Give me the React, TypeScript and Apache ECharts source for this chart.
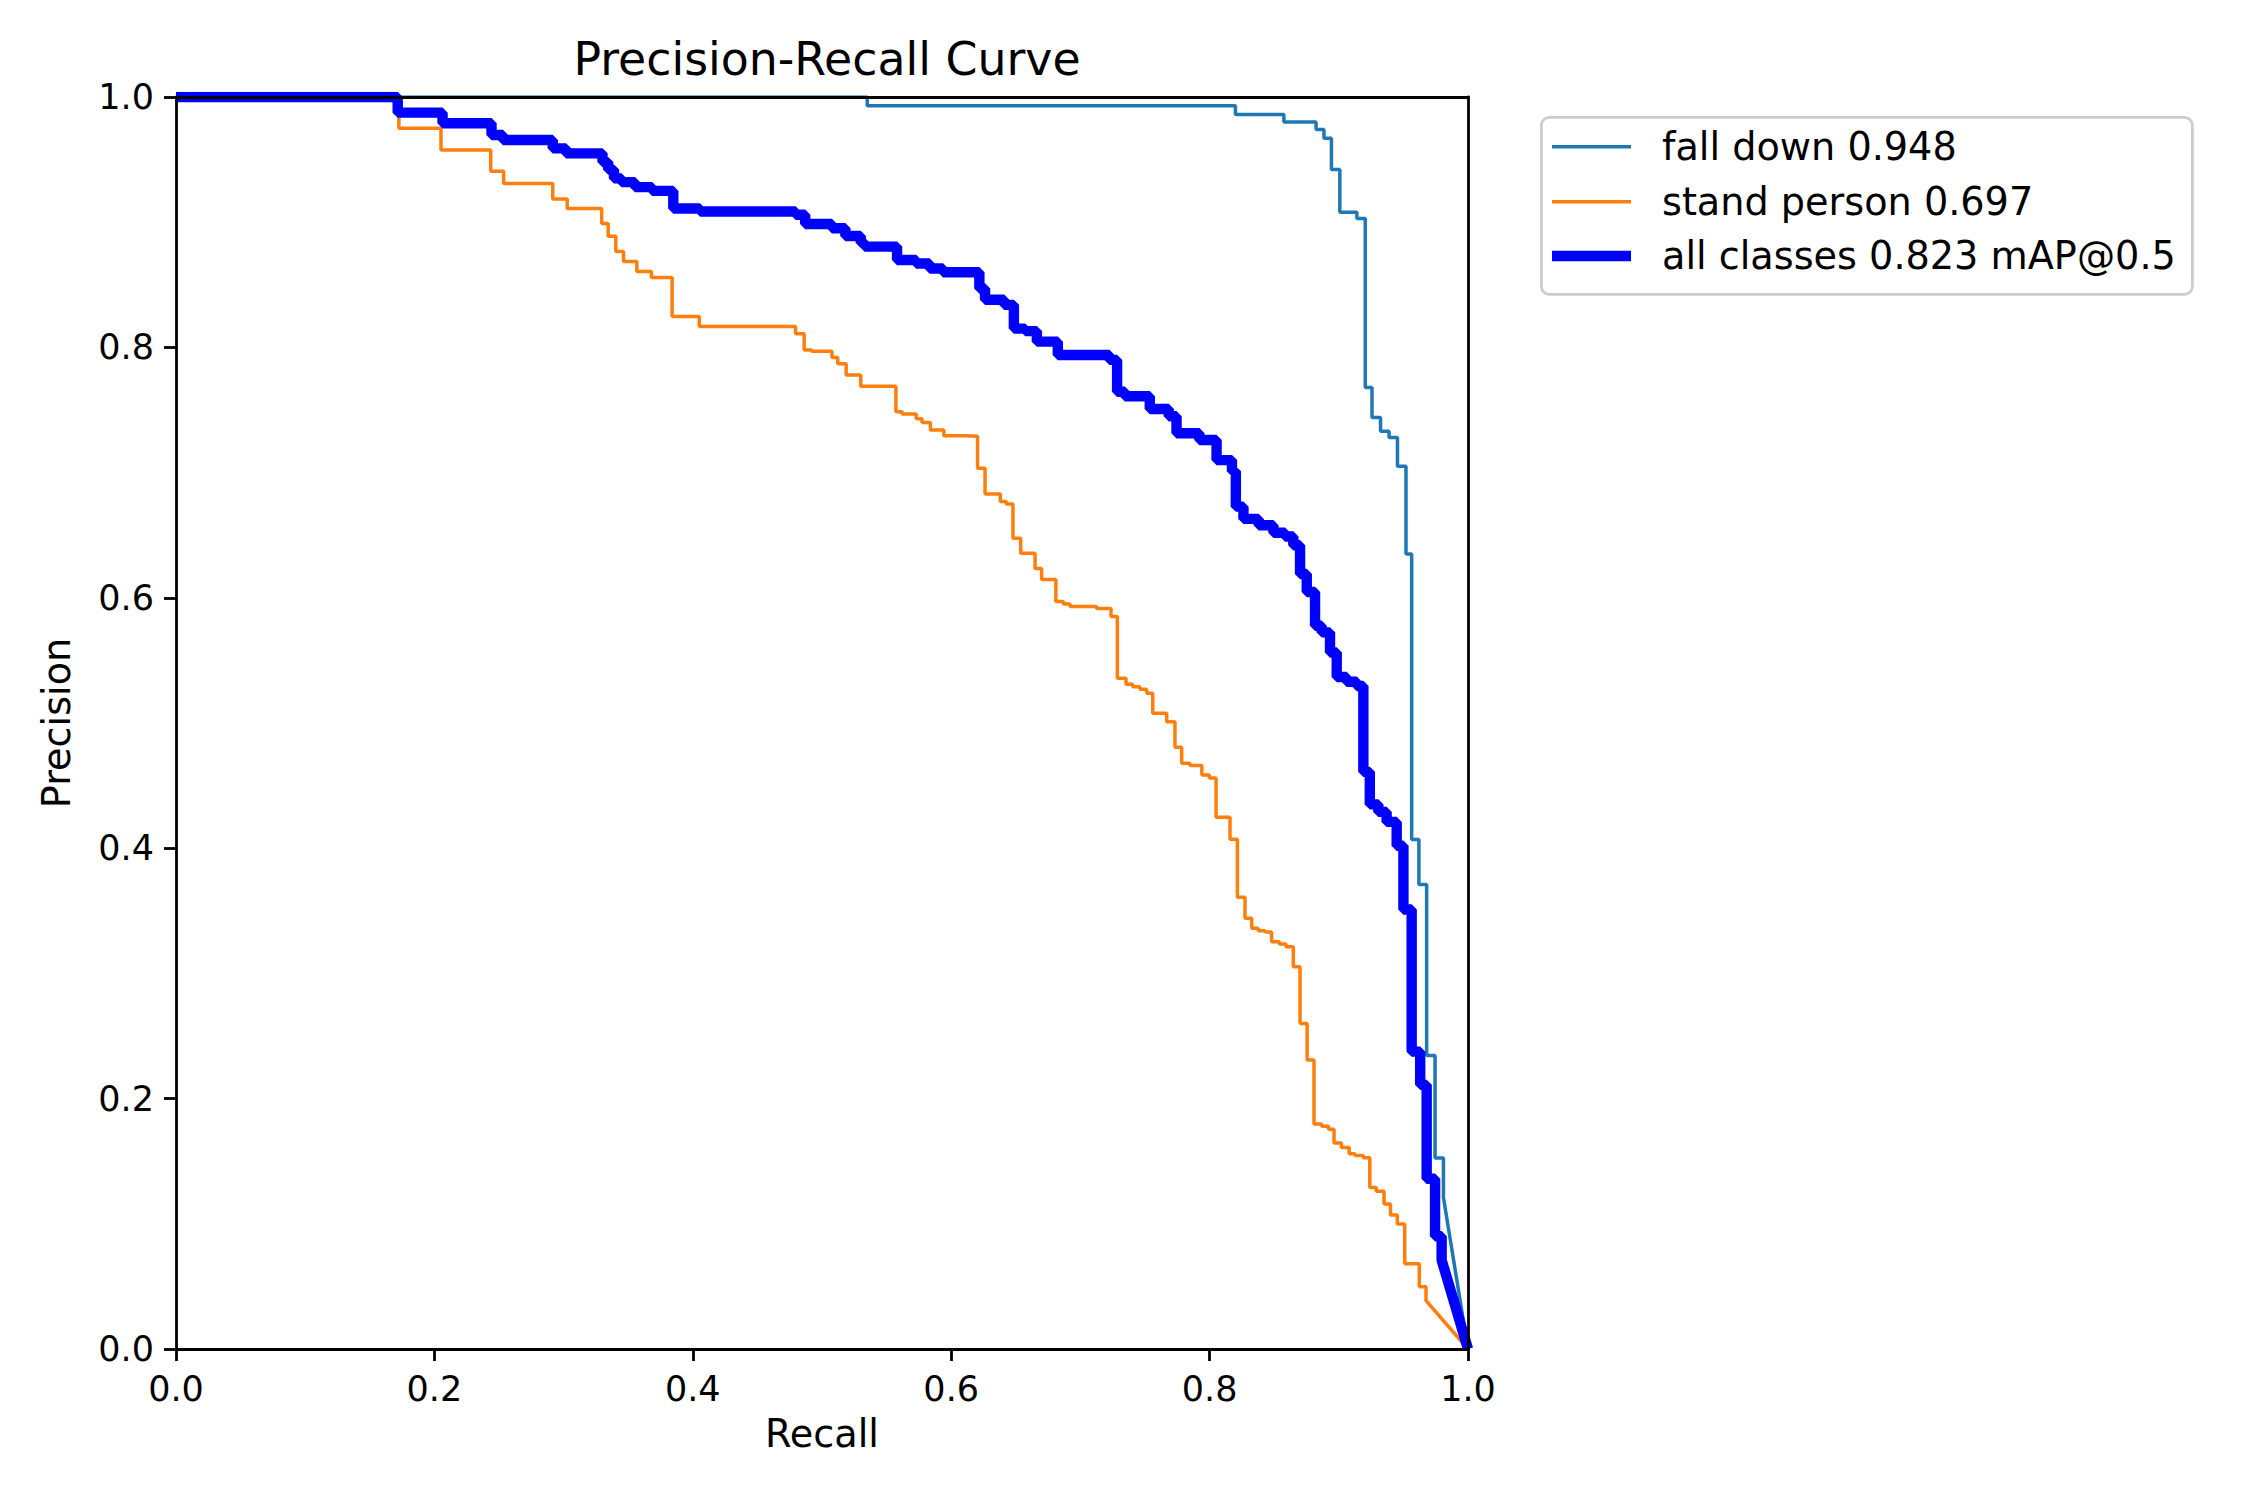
import { useEffect, useRef } from 'react';
import * as echarts from 'echarts';

// step curves: recall where the precision drops, new precision value
// the last point is joined to the one before it with a straight line
const fallDownName = 'fall down 0.948';
const fallDownRecall = [
  0, 0.535, 0.82, 0.8575, 0.8824, 0.8885, 0.8943, 0.9008, 0.914, 0.9205, 0.9257, 0.9323, 0.9389,
  0.9454, 0.952, 0.9564, 0.962, 0.968, 0.9745, 0.981, 1.0,
];
const fallDownPrecision = [
  1.0, 0.993, 0.986, 0.98, 0.974, 0.967, 0.942, 0.908, 0.903, 0.768, 0.744, 0.733, 0.728, 0.705,
  0.635, 0.407, 0.371, 0.2345, 0.1525, 0.121, 0.0,
];

const standPersonName = 'stand person 0.697';
const standPersonRecall = [
  0, 0.1725, 0.2051, 0.2436, 0.2536, 0.2916, 0.3028, 0.3295, 0.3345, 0.3404, 0.3464, 0.3567, 0.368,
  0.384, 0.405, 0.4796, 0.4862, 0.492, 0.5077, 0.5122, 0.5187, 0.53, 0.5572, 0.562, 0.5729, 0.5774,
  0.5839, 0.5943, 0.6115, 0.6204, 0.6262, 0.638, 0.6426, 0.6478, 0.6538, 0.6649, 0.67, 0.681,
  0.6868, 0.692, 0.7126, 0.7237, 0.7286, 0.7353, 0.7405, 0.7461, 0.7513, 0.756, 0.7668, 0.7732,
  0.7784, 0.7848, 0.794, 0.7998, 0.805, 0.8158, 0.8215, 0.8274, 0.8326, 0.8377, 0.8429, 0.848,
  0.854, 0.8591, 0.8648, 0.87, 0.8755, 0.8808, 0.8867, 0.892, 0.8963, 0.902, 0.908, 0.9125, 0.919,
  0.924, 0.929, 0.935, 0.94, 0.9453, 0.951, 0.9623, 0.9675, 1.0,
];
const standPersonPrecision = [
  1.0, 0.975, 0.9577, 0.9406, 0.931, 0.9185, 0.911, 0.899, 0.8887, 0.8766, 0.8686, 0.8606, 0.8558,
  0.8247, 0.8167, 0.811, 0.798, 0.797, 0.792, 0.787, 0.778, 0.769, 0.7487, 0.7468, 0.743, 0.74,
  0.734, 0.7295, 0.729, 0.7034, 0.683, 0.677, 0.675, 0.6475, 0.6355, 0.6235, 0.6147, 0.597, 0.595,
  0.593, 0.5915, 0.585, 0.5357, 0.531, 0.529, 0.527, 0.5237, 0.5077, 0.501, 0.4806, 0.4678, 0.466,
  0.4585, 0.456, 0.4247, 0.4071, 0.3608, 0.344, 0.336, 0.334, 0.333, 0.3253, 0.3235, 0.3213,
  0.3054, 0.26, 0.2308, 0.1797, 0.178, 0.1755, 0.1645, 0.161, 0.156, 0.1545, 0.1527, 0.129, 0.126,
  0.1158, 0.107, 0.0998, 0.068, 0.0498, 0.0386, 0.0,
];

const allClassesName = 'all classes 0.823 mAP@0.5';
const allClassesRecall = [
  0, 0.1716, 0.2063, 0.2442, 0.2531, 0.2916, 0.3019, 0.3301, 0.3345, 0.339, 0.3449, 0.3553, 0.3686,
  0.3849, 0.4056, 0.4796, 0.487, 0.5077, 0.5181, 0.53, 0.533, 0.5581, 0.5729, 0.5833, 0.5937,
  0.6218, 0.6262, 0.641, 0.6485, 0.6573, 0.6663, 0.6825, 0.7225, 0.7284, 0.7344, 0.7537, 0.7684,
  0.7744, 0.7921, 0.8054, 0.8173, 0.8203, 0.8262, 0.838, 0.8494, 0.8584, 0.8648, 0.87, 0.8752,
  0.8816, 0.8867, 0.8932, 0.8984, 0.9061, 0.9139, 0.919, 0.924, 0.9306, 0.937, 0.9448, 0.95,
  0.9564, 0.963, 0.968, 0.9745, 0.9796, 1.0,
];
const allClassesPrecision = [
  1.0, 0.9875, 0.979, 0.9696, 0.9657, 0.959, 0.955, 0.948, 0.942, 0.935, 0.932, 0.928, 0.925, 0.911,
  0.9085, 0.906, 0.8986, 0.8952, 0.889, 0.8836, 0.8805, 0.8698, 0.867, 0.863, 0.86, 0.847, 0.838,
  0.834, 0.815, 0.813, 0.8046, 0.7939, 0.79, 0.7646, 0.761, 0.7508, 0.745, 0.7314, 0.726, 0.71,
  0.701, 0.6728, 0.663, 0.658, 0.652, 0.649, 0.642, 0.619, 0.6046, 0.5777, 0.5724, 0.5563, 0.5367,
  0.533, 0.5296, 0.461, 0.435, 0.429, 0.421, 0.402, 0.351, 0.2375, 0.211, 0.136, 0.09, 0.071, 0.0,
];

const axisTicks = [0, 0.2, 0.4, 0.6, 0.8, 1.0];

const FONT = 'DejaVu Sans';
const TICK_FONT = 35;
const LABEL_FONT = 38.2;
const TITLE_FONT = 45.8;

function stepVertices(rs: number[], ps: number[]): number[][] {
  const pts: number[][] = [[rs[0], ps[0]]];
  for (let i = 1; i < rs.length - 1; i++) {
    pts.push([rs[i], ps[i - 1]]);
    pts.push([rs[i], ps[i]]);
  }
  pts.push([rs[rs.length - 1], ps[ps.length - 1]]);
  return pts;
}

function spineAxis(position: string) {
  return {
    type: 'value',
    position,
    min: 0,
    max: 1,
    interval: 0.2,
    z: 5,
    axisLine: { show: true, onZero: false, lineStyle: { color: '#000', width: 2.8 } },
    axisTick: { show: false },
    axisLabel: { show: false },
    splitLine: { show: false },
  };
}

function mainAxis(position: string, name: string, nameGap: number) {
  return {
    type: 'value',
    position,
    min: 0,
    max: 1,
    interval: 0.2,
    z: 5,
    name,
    nameLocation: 'middle',
    nameGap,
    nameTextStyle: { fontFamily: FONT, fontSize: LABEL_FONT, color: '#000' },
    axisLine: { show: true, onZero: false, lineStyle: { color: '#000', width: 2.8 } },
    axisTick: { show: true, length: 12, lineStyle: { color: '#000', width: 2.8 } },
    axisLabel: {
      fontFamily: FONT,
      fontSize: TICK_FONT,
      color: '#000',
      margin: 22,
      formatter: (v: number) => (axisTicks.includes(Number(v.toFixed(1))) ? v.toFixed(1) : ''),
    },
    splitLine: { show: false },
  };
}

function legendRow(name: string, top: number, height: number) {
  return {
    data: [name],
    left: 1552,
    top,
    padding: 0,
    icon: 'rect',
    itemWidth: 79,
    itemHeight: height,
    selectedMode: false,
    textStyle: {
      fontFamily: FONT,
      fontSize: LABEL_FONT,
      color: '#000',
      lineHeight: 44,
      padding: [0, 0, 0, 26],
    },
  };
}

export default function App() {
  const chartRef = useRef<HTMLDivElement>(null);

  useEffect(() => {
    document.body.style.margin = '0';
    if (!chartRef.current) return;
    const chart = echarts.init(chartRef.current, undefined, { renderer: 'svg' });

    const option = {
      animation: false,
      backgroundColor: '#fff',
      title: {
        text: 'Precision-Recall Curve',
        left: 822,
        top: 31,
        textAlign: 'center',
        textStyle: { fontFamily: FONT, fontSize: TITLE_FONT, fontWeight: 'normal', color: '#000' },
      },
      grid: { left: 176, right: 782, top: 97, bottom: 151, containLabel: false },
      xAxis: [mainAxis('bottom', 'Recall', 66), spineAxis('top')],
      yAxis: [mainAxis('left', 'Precision', 100), spineAxis('right')],
      legend: [
        legendRow(fallDownName, 124.7, 3.5),
        legendRow(standPersonName, 179.7, 3.5),
        legendRow(allClassesName, 234, 10.4),
      ],
      graphic: [
        {
          type: 'rect',
          left: 1540,
          top: 116,
          z: 0,
          shape: { width: 651, height: 177, r: 8 },
          style: { fill: '#fff', stroke: '#cccccc', lineWidth: 2.8 },
        },
      ],
      series: [
        {
          name: fallDownName,
          type: 'line',
          data: stepVertices(fallDownRecall, fallDownPrecision),
          symbol: 'none',
          lineStyle: { color: '#1f77b4', width: 3.5 },
          itemStyle: { color: '#1f77b4' },
          z: 2,
        },
        {
          name: standPersonName,
          type: 'line',
          data: stepVertices(standPersonRecall, standPersonPrecision),
          symbol: 'none',
          lineStyle: { color: '#ff7f0e', width: 3.5 },
          itemStyle: { color: '#ff7f0e' },
          z: 2,
        },
        {
          name: allClassesName,
          type: 'line',
          data: stepVertices(allClassesRecall, allClassesPrecision),
          symbol: 'none',
          lineStyle: { color: '#0000ff', width: 10.4 },
          itemStyle: { color: '#0000ff' },
          z: 3,
        },
      ],
    };

    chart.setOption(option as echarts.EChartsOption);
    return () => {
      chart.dispose();
    };
  }, []);

  return <div ref={chartRef} style={{ width: '2250px', height: '1500px' }} />;
}
